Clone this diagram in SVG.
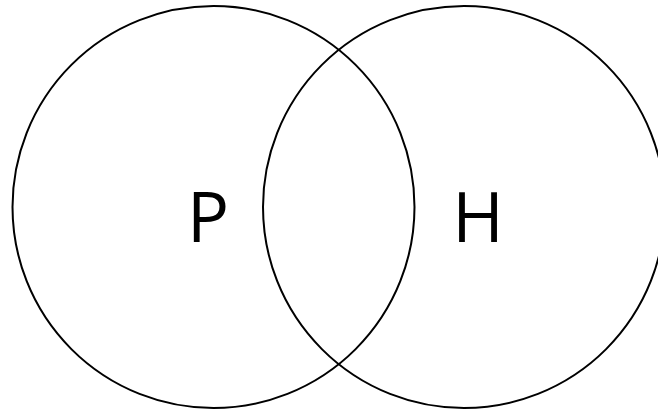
<svg xmlns="http://www.w3.org/2000/svg" width="658" height="412" viewBox="0 0 658 412">
<style>
.c{fill:none;stroke:#000;stroke-width:2}
.t{font-family:"Open Sans","Liberation Sans",sans-serif;font-size:70px;fill:#000;text-anchor:middle}
</style>
<rect width="658" height="412" fill="#fff"/>
<g id="P">
<circle class="c" cx="213.5" cy="207" r="201"/>
<text class="t" x="208" y="242">P</text>
</g>
<g id="H">
<circle class="c" cx="464" cy="207" r="201"/>
<text class="t" x="478" y="242">H</text>
</g>
<g id="connectors"></g>
</svg>
